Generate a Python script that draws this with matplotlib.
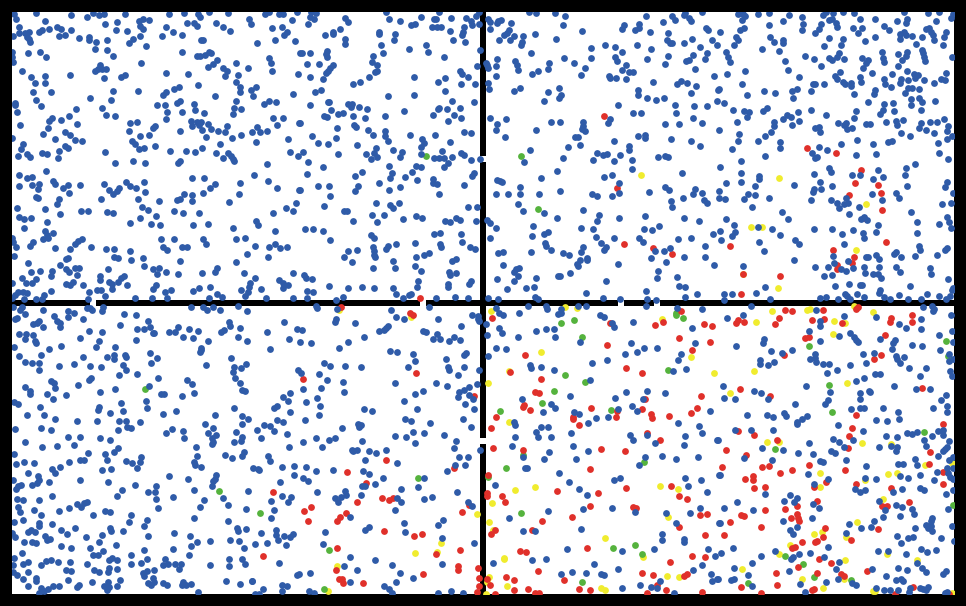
import numpy as np
import matplotlib
matplotlib.use('Agg')
import matplotlib.pyplot as plt

# points, (x, y) per panel and category
top_left_blue = [
(14,14),(16,19),(36,13),(71,15),(87,17),(93,13),(99,15),(104,14),(125,14),(169,14),(184,13),(198,14),(200,17),(209,12),(228,13),(265,14),(269,12),(279,14),(283,14),(297,12),(292,20),(45,21),(19,27),(13,36),(19,33),(25,33),(29,32),(27,37),(29,39),(30,42),(39,32),(42,30),(49,29),(57,27),(61,29),(59,36),(65,35),(71,30),(79,38),(89,37),(89,40),(96,42),(107,40),(95,49),(107,50),(113,56),(105,24),(116,30),(117,22),(127,31),(139,21),(143,19),(149,20),(140,26),(143,29),(140,36),(133,39),(129,43),(146,46),(162,36),(166,27),(173,32),(182,35),(187,23),(194,23),(197,26),(216,23),(223,27),(230,31),(251,24),(249,19),(272,28),(282,27),(287,32),(284,35),(275,40),(295,41),(257,43),(201,40),(203,40),(182,52),(12,52),(12,57),(13,62),(28,53),(40,52),(46,57),(22,71),(31,77),(45,76),(35,83),(45,83),(70,75),(100,65),(98,69),(95,71),(102,69),(106,69),(104,78),(121,77),(125,75),(141,63),(166,73),(188,74),(197,56),(200,56),(205,55),(209,52),(211,53),(217,60),(213,64),(208,67),(223,68),(227,71),(225,76),(238,75),(236,63),(248,68),(269,58),(271,63),(272,71),(300,53),(298,74),(236,82),(240,87),(240,92),(251,90),(256,87),(253,96),(198,85),(179,87),(174,89),(166,92),(163,95),(138,91),(113,91),(111,100),(90,98),(33,92),(51,92),(36,100),(15,103),(15,105),(17,112),(41,106),(76,109),(102,108),(106,115),(115,116),(157,105),(165,105),(167,112),(166,119),(177,103),(180,101),(182,112),(194,104),(195,110),(204,113),(215,96),(236,101),(234,108),(241,109),(233,114),(264,104),(269,101),(276,102),(293,94),(283,118),(273,118),(277,125),(299,123),(52,118),(49,121),(61,120),(69,116),(77,124),(20,125),(48,128),(43,134),(65,132),(70,135),(55,139),(75,140),(82,141),(12,138),(23,144),(21,149),(65,146),(68,148),(59,151),(27,154),(30,157),(18,156),(42,153),(47,154),(58,158),(105,152),(115,163),(133,161),(145,163),(130,123),(137,122),(129,131),(155,126),(153,128),(149,135),(140,136),(132,141),(135,144),(139,149),(144,148),(155,146),(170,151),(180,131),(191,121),(197,122),(201,122),(192,126),(199,125),(202,130),(208,124),(211,129),(218,131),(225,132),(227,126),(241,135),(232,138),(206,137),(220,144),(202,148),(195,152),(186,151),(180,161),(178,163),(216,153),(223,158),(228,153),(231,156),(233,159),(234,161),(252,132),(257,127),(260,132),(267,131),(256,142),(288,139),(290,152),(298,156),(267,164),(254,175),(268,181),(277,188),(299,190),(296,203),(293,211),(286,208),(273,213),(240,183),(239,194),(229,202),(215,184),(210,188),(203,193),(204,178),(192,178),(192,195),(192,201),(184,194),(180,199),(177,200),(159,201),(144,182),(145,192),(136,188),(138,199),(130,186),(126,182),(119,188),(117,191),(113,194),(109,190),(104,184),(80,185),(46,171),(19,175),(19,186),(27,178),(32,177),(32,185),(39,184),(38,189),(53,181),(55,184),(63,188),(68,185),(69,193),(101,199),(36,197),(38,198),(59,199),(57,204),(17,208),(45,209),(81,211),(88,211),(107,212),(113,213),(60,214),(19,217),(24,219),(31,218),(47,222),(24,228),(142,207),(148,210),(156,216),(174,211),(183,213),(199,213),(140,218),(130,223),(151,224),(160,225),(193,225),(208,224),(233,228),(256,221),(258,225),(275,231),(45,231),(53,233),(47,235),(43,239),(48,238),(12,238),(13,242),(16,247),(30,246),(33,242),(82,239),(78,241),(75,244),(91,247),(70,249),(55,248),(106,249),(114,249),(130,251),(161,239),(163,247),(167,250),(174,239),(182,247),(187,247),(203,239),(206,244),(236,239),(245,238),(255,246),(269,247),(275,244),(280,248),(287,247),(268,257),(247,254),(236,262),(180,261),(143,258),(131,260),(114,257),(118,258),(14,256),(28,263),(68,258),(66,259),(60,265),(75,268),(79,268),(66,269),(69,272),(108,269),(144,266),(153,269),(159,268),(157,274),(166,272),(178,274),(202,273),(217,268),(215,272),(244,273),(293,273),(255,278),(31,272),(40,271),(52,271),(51,276),(77,275),(22,278),(26,283),(32,283),(36,279),(12,283),(66,284),(70,285),(73,282),(83,285),(100,276),(100,280),(109,282),(112,284),(118,282),(121,278),(124,276),(127,285),(112,289),(279,280),(283,283),(288,285),(283,288),(250,283),(249,287),(241,290),(248,292),(245,296),(261,289),(266,298),(293,298),(222,297),(217,294),(209,298),(210,287),(199,288),(193,291),(171,290),(165,292),(167,298),(156,285),(153,289),(152,298),(135,298),(105,296),(97,290),(101,290),(89,292),(88,299),(51,291),(44,295),(42,299),(36,299),(27,293),(23,292),(18,292),(15,295),(12,298),(24,299),
(311,12),(316,13),(310,17),(314,19),(308,24),(345,18),(348,22),(386,12),(389,19),(400,21),(421,17),(439,12),(434,19),(436,19),(451,18),(466,18),(471,21),(472,25),(476,16),(479,12),(479,24),(411,25),(415,24),(432,27),(437,27),(441,27),(450,31),(464,27),(463,32),(462,35),(453,40),(465,42),(340,29),(333,32),(333,34),(325,35),(379,32),(379,34),(395,34),(394,40),(345,39),(345,44),(381,45),(426,45),(428,52),(409,49),(302,53),(310,53),(327,51),(326,54),(327,57),(373,56),(383,53),(372,62),(377,65),(444,57),(480,50),(307,64),(319,64),(333,65),(330,68),(328,71),(326,73),(310,77),(323,79),(377,71),(375,72),(369,77),(360,82),(353,84),(414,77),(438,82),(445,78),(460,71),(462,74),(468,77),(477,66),(461,84),(475,84),(445,91),(321,90),(315,92),(388,96),(414,95),(452,101),(474,102),(310,105),(328,102),(329,102),(348,104),(352,104),(351,107),(359,107),(367,109),(331,110),(338,114),(343,113),(324,116),(327,117),(353,116),(365,118),(385,116),(404,111),(439,108),(438,109),(433,115),(447,109),(460,108),(454,115),(461,118),(448,121),(300,123),(337,128),(354,125),(356,127),(368,130),(373,135),(385,131),(385,136),(388,141),(410,135),(435,135),(422,139),(424,143),(421,147),(464,132),(471,133),(450,142),(312,136),(336,138),(318,143),(328,144),(357,145),(376,148),(393,150),(303,152),(338,154),(366,154),(374,153),(377,157),(371,159),(402,152),(400,157),(421,154),(442,151),(434,158),(439,158),(444,158),(452,157),(461,153),(464,155),(471,160),(480,159),(448,163),(444,167),(308,162),(323,167),(389,166),(416,166),(421,167),(412,172),(307,174),(362,172),(355,176),(392,173),(390,178),(405,177),(417,180),(433,179),(433,183),(437,184),(474,173),(472,176),(464,185),(318,186),(329,186),(358,186),(379,183),(400,187),(300,190),(355,191),(389,190),(330,196),(439,194),(376,203),(399,203),(390,205),(393,208),(324,206),(344,211),(347,211),(468,207),(477,207),(372,215),(384,215),(416,216),(422,218),(353,221),(377,222),(403,219),(445,221),(450,222),(456,218),(460,220),(476,221),(305,229),(313,229),(323,231),(330,240),(371,235),(374,238),(434,234),(440,233),(461,234),(415,243),(396,244),(388,246),(386,249),(440,244),(441,247),(462,242),(470,247),(475,249),(373,247),(374,251),(348,251),(357,250),(374,255),(375,257),(344,257),(352,262),(393,261),(416,257),(424,255),(429,253),(456,259),(452,261),(415,266),(373,268),(395,268),(421,271),(449,272),(450,275),(456,273),(304,275),(306,278),(312,279),(471,281),(469,284),(418,281),(417,287),(448,284),(448,287),(329,286),(348,288),(362,287),(374,288),(393,288),(307,291),(313,292),(396,294),(409,295),(411,294),(403,298),(436,298),(455,297),(468,298),(343,297),(336,300),(307,298)]
top_left_red = [(420,298)]
top_left_yellow = []
top_left_green = [(426,156)]

top_right_blue = [
(529,12),(536,13),(555,13),(565,16),(646,16),(672,16),(675,20),(685,13),(684,15),(689,18),(691,21),(702,12),(488,19),(490,22),(497,23),(498,21),(501,20),(511,23),(563,25),(624,25),(622,29),(639,24),(639,28),(635,30),(663,22),(706,28),(708,30),(490,29),(509,30),(507,33),(504,35),(582,31),(650,32),(668,33),(535,34),(514,36),(523,36),(499,40),(510,40),(522,42),(521,45),(556,39),(667,40),(670,43),(672,43),(684,43),(692,39),(712,40),(717,45),(605,45),(637,45),(591,48),(615,47),(651,49),(700,47),(531,53),(622,52),(693,55),(707,53),(564,58),(591,58),(615,57),(668,56),(705,59),(497,59),(617,61),(647,59),(686,61),(689,60),(515,61),(574,63),(549,63),(665,64),(486,63),(487,65),(488,68),(496,66),(517,65),(518,70),(548,69),(585,68),(626,65),(622,70),(695,69),(538,71),(532,74),(581,75),(629,72),(633,72),(496,76),(609,76),(610,78),(616,78),(626,79),(714,76),(488,83),(653,82),(681,81),(677,84),(687,83),(696,86),(489,89),(520,88),(514,91),(559,88),(548,92),(638,90),(638,95),(691,93),(718,90),(561,95),(559,98),(544,101),(647,98),(656,100),(664,98),(717,101),(618,105),(675,105),(694,106),(707,106),(633,113),(641,113),(676,113),(490,118),(506,119),(610,119),(608,123),(693,118),(497,124),(551,122),(560,122),(583,122),(583,126),(665,124),(679,124),(702,123),(496,130),(536,130),(582,129),(585,131),(505,137),(575,137),(578,137),(638,136),(645,135),(645,138),(671,139),(614,141),(691,141),(568,147),(580,145),(629,146),(629,150),(700,146),(530,150),(597,153),(607,154),(603,155),(620,155),(658,157),(665,156),(668,157),(563,158),(593,160),(614,161),(632,160),(524,162),(557,171),(632,169),(682,173),(604,177),(612,175),(541,178),(497,180),(500,181),(502,182),(520,187),(619,183),(665,187),(695,189),(669,190),(496,194),(508,194),(520,194),(539,194),(560,191),(592,194),(597,196),(612,196),(619,193),(649,192),(683,198),(693,194),(702,193),(704,200),(707,203),(671,201),(518,204),(672,207),(523,211),(544,213),(583,210),(599,215),(487,220),(490,223),(557,218),(619,218),(645,216),(684,218),(699,221),(597,221),(496,228),(533,226),(581,228),(593,229),(644,229),(652,230),(659,226),(548,232),(544,234),(532,236),(713,234),(490,238),(596,237),(614,238),(639,238),(678,239),(691,238),(601,243),(643,242),(545,243),(546,246),(606,247),(604,250),(583,247),(705,246),(670,248),(664,251),(655,251),(551,250),(531,252),(503,252),(498,253),(563,253),(569,255),(581,252),(684,257),(705,257),(651,258),(587,258),(580,260),(587,260),(666,262),(503,265),(577,264),(578,266),(618,264),(714,265),(519,268),(516,269),(514,272),(518,276),(658,271),(570,273),(558,276),(560,276),(536,278),(497,279),(514,281),(657,278),(677,277),(606,281),(526,288),(534,287),(507,289),(679,286),(685,287),(646,291),(697,294),(586,293),(685,297),(488,298),(498,299),(535,297),(538,299),(603,298),(620,299),(647,299),(656,300),
(738,14),(743,14),(745,16),(758,14),(769,13),(789,15),(802,17),(823,15),(826,12),(833,13),(843,12),(854,13),(904,12),(928,13),(939,12),(953,14),(951,18),(860,19),(875,19),(897,21),(907,19),(906,23),(936,21),(742,20),(783,21),(829,20),(832,19),(836,23),(837,27),(821,24),(819,29),(769,25),(803,24),(802,30),(884,26),(889,30),(853,28),(862,28),(858,33),(929,28),(926,29),(931,32),(933,35),(744,28),(740,30),(720,32),(815,33),(904,32),(900,34),(906,35),(912,36),(922,37),(946,32),(944,37),(770,37),(736,37),(738,40),(783,40),(829,38),(843,39),(875,37),(900,39),(934,40),(774,42),(783,43),(865,41),(916,44),(943,45),(734,45),(824,46),(841,45),(762,49),(779,51),(726,52),(922,50),(923,53),(882,52),(898,54),(907,52),(906,56),(952,57),(728,57),(730,62),(805,56),(839,53),(837,57),(829,58),(832,60),(844,59),(814,59),(862,58),(785,61),(883,58),(884,62),(868,60),(866,63),(902,60),(924,57),(925,61),(821,66),(863,68),(898,66),(745,71),(788,70),(727,74),(840,72),(872,73),(892,74),(907,71),(914,74),(918,75),(946,73),(799,77),(835,76),(837,79),(860,77),(884,79),(915,78),(924,80),(908,80),(901,79),(900,83),(941,79),(945,80),(742,84),(813,84),(815,84),(824,84),(843,82),(845,84),(851,83),(851,86),(861,82),(885,84),(891,87),(934,83),(719,89),(764,91),(775,93),(792,91),(797,89),(811,91),(875,90),(874,94),(854,94),(908,88),(912,88),(919,89),(905,93),(747,95),(793,98),(919,98),(911,99),(868,102),(724,103),(922,102),(935,101),(911,105),(884,104),(893,103),(767,108),(763,111),(733,110),(744,111),(749,112),(798,112),(811,110),(856,111),(883,110),(894,111),(921,110),(880,114),(747,117),(826,115),(787,115),(791,117),(783,119),(854,118),(737,122),(774,122),(774,126),(799,121),(792,125),(838,123),(846,123),(844,125),(866,124),(870,124),(886,122),(896,121),(897,125),(903,120),(921,123),(930,122),(937,122),(944,119),(948,126),(919,128),(926,130),(719,130),(819,127),(815,128),(820,132),(847,129),(852,128),(901,133),(934,133),(947,131),(739,134),(771,132),(765,136),(910,136),(952,136),(738,141),(758,141),(780,142),(857,140),(892,141),(888,142),(947,139),(938,143),(780,148),(732,149),(841,144),(873,144),(819,147),(827,150),(812,153),(939,153),(765,156),(817,157),(815,158),(856,155),(876,154),(741,161),(948,159),(720,167),(915,164),(906,168),(829,168),(831,172),(878,170),(741,173),(814,174),(852,175),(860,175),(759,176),(759,179),(905,175),(873,179),(883,177),(741,182),(726,183),(820,182),(794,185),(832,186),(755,186),(907,186),(945,187),(947,182),(814,189),(813,192),(821,189),(719,191),(748,194),(755,195),(872,194),(953,193),(896,193),(719,198),(725,199),(744,199),(769,198),(811,200),(831,200),(846,198),(899,198),(882,200),(752,207),(837,203),(844,204),(848,203),(839,208),(859,207),(942,204),(951,203),(782,212),(849,214),(911,212),(726,219),(788,219),(861,219),(864,217),(867,220),(947,217),(949,222),(917,222),(939,224),(734,225),(758,227),(878,225),(951,228),(772,229),(814,229),(832,229),(853,230),(863,233),(876,232),(917,233),(720,231),(735,232),(732,236),(780,235),(842,234),(864,238),(795,240),(721,240),(759,242),(799,244),(844,244),(764,251),(919,246),(920,250),(947,248),(945,250),(896,252),(894,254),(876,255),(937,255),(915,256),(901,257),(833,256),(866,257),(868,257),(879,259),(794,260),(848,261),(834,263),(743,266),(815,267),(828,267),(841,269),(846,271),(853,268),(864,267),(879,267),(896,267),(900,272),(930,268),(931,274),(865,273),(832,275),(824,276),(873,274),(878,274),(881,278),(948,279),(835,286),(849,284),(860,285),(862,285),(910,286),(765,287),(880,290),(953,288),(952,290),(724,294),(732,294),(756,293),(845,294),(857,294),(879,293),(927,294),(899,295),(939,296),(950,296),(847,296),(850,299),(864,297),(884,297),(890,299),(908,299),(921,299),(946,299),(770,299),(820,298),(826,297),(838,299),(724,300)]
top_right_red = [(604,116),(617,188),(624,244),(653,248),(672,254),(807,148),(836,153),(861,170),(855,183),(878,185),(881,193),(849,195),(882,210),(864,218),(886,242),(833,250),(854,257),(852,263),(837,265),(837,269),(730,246),(743,274),(780,276),(741,294)]
top_right_yellow = [(641,175),(779,178),(866,204),(751,227),(762,227),(856,250),(743,274),(778,288)]
top_right_green = [(521,156),(538,209)]

bottom_left_blue = [
(13,307),(22,307),(20,310),(43,310),(25,314),(17,318),(15,319),(54,316),(68,311),(74,313),(68,317),(83,319),(87,308),(90,308),(92,310),(103,307),(102,311),(124,314),(136,315),(57,321),(60,323),(60,327),(39,321),(37,323),(33,324),(43,327),(120,325),(148,321),(150,327),(137,329),(144,329),(153,333),(154,333),(169,332),(175,332),(178,327),(189,329),(198,331),(183,337),(193,338),(208,341),(221,332),(224,330),(229,322),(230,326),(240,328),(238,337),(247,341),(247,311),(238,306),(220,310),(213,307),(207,310),(203,307),(191,307),(19,334),(26,334),(33,335),(25,339),(35,341),(36,343),(14,347),(49,349),(61,346),(80,338),(89,331),(102,332),(99,341),(96,347),(115,347),(136,340),(19,356),(41,355),(25,362),(32,363),(39,363),(39,370),(59,366),(74,364),(83,357),(90,366),(101,367),(107,357),(114,355),(114,359),(125,355),(126,357),(123,365),(126,370),(150,353),(157,358),(151,363),(137,374),(119,375),(206,365),(231,358),(201,348),(201,350),(200,352),(234,367),(241,368),(246,364),(233,372),(235,378),(158,378),(187,380),(192,384),(240,383),(51,381),(54,383),(55,388),(78,385),(89,380),(91,378),(25,387),(30,391),(30,394),(47,394),(66,395),(53,399),(100,392),(115,389),(149,386),(161,394),(164,394),(182,396),(194,393),(242,390),(245,391),(14,402),(18,404),(40,407),(121,403),(146,401),(147,408),(99,407),(98,410),(110,413),(123,411),(176,411),(234,408),(27,415),(44,415),(55,419),(77,421),(97,421),(119,421),(126,421),(140,422),(163,414),(215,415),(242,416),(248,419),(15,429),(41,428),(51,430),(118,430),(127,427),(131,428),(205,424),(242,424),(166,433),(172,429),(183,431),(213,428),(208,433),(216,435),(236,432),(68,437),(80,437),(100,438),(110,440),(184,438),(25,442),(212,438),(213,442),(212,444),(242,437),(241,441),(234,442),(42,447),(57,446),(74,445),(118,448),(196,447),(14,454),(88,453),(105,454),(114,452),(197,456),(225,455),(232,458),(244,452),(242,456),(141,457),(140,462),(80,460),(84,460),(107,460),(126,461),(132,463),(24,462),(34,463),(16,464),(69,462),(194,462),(195,465),(137,468),(201,467),(52,469),(60,467),(102,470),(111,469),(55,473),(28,473),(38,476),(216,475),(215,479),(213,481),(169,476),(13,480),(39,480),(37,483),(49,482),(80,480),(108,482),(135,485),(188,479),(32,485),(21,485),(18,486),(16,489),(156,486),(212,486),(122,490),(148,492),(155,492),(194,490),(248,491),(52,496),(117,496),(173,497),(223,498),(17,499),(23,500),(39,500),(204,500),(156,499),(87,502),(84,503),(77,504),(81,507),(228,505),(200,507),(158,508),(18,507),(69,508),(20,512),(34,510),(59,511),(246,509),(105,511),(110,512),(131,515),(41,515),(93,515),(23,520),(147,520),(194,518),(129,522),(14,522),(228,521),(39,523),(39,526),(52,524),(144,526),(75,528),(110,528),(61,530),(111,531),(123,531),(31,530),(28,532),(35,532),(237,528),(238,531),(246,529),(12,533),(15,537),(67,534),(102,535),(86,537),(45,536),(47,540),(50,539),(148,536),(174,533),(190,536),(24,542),(32,542),(36,543),(99,542),(197,542),(210,541),(230,540),(239,541),(116,545),(61,546),(71,548),(90,548),(191,546),(244,548),(144,550),(173,549),(103,551),(22,553),(93,555),(98,555),(131,555),(189,555),(14,558),(229,559),(242,559),(112,558),(109,560),(117,560),(147,559),(165,559),(46,561),(51,560),(58,562),(70,562),(28,562),(23,564),(13,565),(41,565),(87,564),(131,564),(141,563),(163,565),(168,564),(175,564),(181,564),(179,569),(210,565),(229,566),(245,564),(66,570),(71,571),(109,568),(108,572),(117,569),(94,570),(99,572),(154,570),(147,571),(143,573),(144,576),(13,572),(17,575),(28,572),(23,579),(36,578),(36,581),(68,580),(120,580),(92,582),(153,578),(148,583),(154,582),(151,585),(163,583),(167,585),(183,582),(182,585),(186,585),(191,584),(226,581),(240,584),(252,581),(28,586),(53,586),(59,586),(79,585),(77,587),(108,582),(104,586),(109,587),(107,590),(117,586),(41,588),(48,589),(39,593),(44,591),(198,592),
(316,306),(317,308),(337,309),(391,310),(429,307),(396,317),(404,319),(438,319),(472,315),(478,316),(478,319),(479,321),(284,322),(336,319),(335,322),(355,323),(461,326),(267,332),(297,329),(302,330),(388,326),(386,328),(384,330),(379,331),(423,331),(426,332),(437,334),(454,337),(460,340),(440,339),(433,339),(449,341),(289,339),(300,342),(311,343),(364,337),(348,342),(270,349),(339,348),(390,351),(397,352),(413,354),(466,353),(464,355),(446,359),(415,361),(324,363),(330,366),(345,366),(361,367),(408,367),(448,367),(449,370),(464,367),(479,370),(298,370),(301,373),(319,374),(458,375),(327,380),(343,382),(395,383),(436,383),(447,386),(477,384),(321,388),(303,389),(344,392),(415,394),(423,391),(469,387),(464,390),(459,392),(469,395),(473,399),(458,397),(290,393),(283,397),(317,398),(288,401),(306,402),(404,401),(465,404),(320,406),(277,406),(274,408),(290,412),(364,409),(372,411),(417,409),(474,409),(319,415),(277,420),(283,422),(305,420),(405,419),(411,421),(430,423),(463,419),(264,425),(270,426),(358,424),(361,425),(359,427),(342,428),(471,427),(257,430),(274,431),(287,434),(413,432),(424,433),(444,435),(395,436),(406,437),(261,438),(316,438),(335,438),(329,440),(303,442),(362,441),(415,443),(456,441),(289,447),(322,447),(454,448),(480,450),(352,450),(357,450),(353,451),(369,451),(376,453),(386,450),(268,456),(270,461),(459,457),(468,457),(365,460),(397,463),(253,468),(258,469),(259,470),(282,467),(294,466),(306,467),(316,471),(333,470),(363,471),(369,474),(465,465),(455,465),(447,471),(294,475),(303,478),(308,481),(280,482),(383,478),(424,478),(375,484),(362,486),(365,486),(401,489),(418,487),(317,492),(345,491),(457,492),(282,496),(291,497),(335,498),(341,497),(346,495),(361,495),(397,498),(432,497),(271,501),(288,502),(338,502),(401,502),(424,499),(468,502),(472,506),(274,510),(395,510),(271,518),(350,517),(443,520),(404,523),(438,525),(369,527),(365,530),(261,533),(276,530),(325,532),(405,532),(293,534),(290,537),(284,536),(276,535),(278,540),(255,544),(267,543),(286,545),(323,544),(442,538),(474,543),(350,557),(375,560),(279,563),(344,566),(392,565),(442,564),(357,570),(400,573),(310,573),(299,574),(297,575),(413,578),(252,581),(350,582),(396,582),(282,585),(287,586),(384,586),(389,589),(392,593),(263,589),(282,591),(255,594),(259,594),(309,591),(314,593),(438,593),(451,591),(463,593)]
bottom_left_red = [(341,307),(410,313),(413,315),(303,379),(416,373),(474,396),(386,460),(347,472),(454,468),(366,483),(273,492),(382,498),(389,500),(393,498),(357,502),(311,507),(304,511),(308,521),(340,517),(337,521),(346,513),(462,512),(469,505),(384,531),(414,536),(422,534),(460,550),(436,554),(337,548),(263,556),(336,570),(458,566),(458,570),(423,574),(478,568),(339,579),(342,579),(343,583),(363,583),(479,578),(479,586),(477,592)]
bottom_left_yellow = [(339,310),(411,317),(477,514),(441,543),(415,553),(437,552),(337,566),(328,591)]
bottom_left_green = [(145,389),(219,491),(418,478),(260,513),(329,550),(324,589)]

bottom_right_blue = [
(496,308),(528,306),(546,306),(547,309),(578,306),(586,306),(646,306),(677,308),(702,309),(561,309),(561,313),(558,314),(499,313),(503,315),(519,313),(600,315),(604,317),(633,322),(612,323),(614,327),(486,324),(499,328),(502,333),(536,331),(546,329),(554,329),(692,328),(487,335),(518,337),(555,337),(580,342),(631,343),(695,343),(496,348),(506,349),(644,348),(657,348),(637,352),(625,354),(681,354),(488,356),(678,360),(607,360),(592,363),(530,365),(531,368),(541,367),(554,370),(686,369),(673,371),(590,380),(570,396),(626,392),(647,391),(665,393),(615,398),(643,399),(522,399),(551,404),(555,408),(632,406),(618,409),(637,411),(543,412),(710,411),(574,412),(579,414),(596,418),(608,417),(514,422),(515,425),(588,423),(678,423),(541,427),(548,427),(699,426),(536,432),(571,433),(630,435),(647,435),(685,436),(702,433),(515,437),(538,437),(551,437),(633,440),(717,440),(655,443),(512,446),(573,446),(684,445),(549,452),(588,451),(523,457),(544,459),(576,459),(645,457),(662,456),(676,459),(698,457),(639,465),(525,468),(527,468),(559,473),(719,475),(569,482),(614,480),(620,478),(685,478),(701,480),(495,485),(688,486),(579,489),(587,495),(707,492),(548,511),(612,508),(583,509),(635,512),(666,513),(690,513),(700,508),(509,518),(676,523),(719,523),(581,529),(523,531),(535,531),(662,534),(662,540),(684,539),(684,542),(567,549),(622,551),(654,549),(708,549),(532,560),(546,559),(715,556),(493,563),(594,564),(702,565),(618,569),(693,570),(561,574),(572,572),(586,573),(601,574),(604,575),(711,574),(660,581),(712,581),(717,579),(640,585),(651,587),(657,588),(622,588),(674,593),
(751,306),(816,310),(743,315),(727,318),(844,316),(876,317),(923,307),(932,306),(934,309),(933,311),(951,315),(921,319),(820,321),(820,326),(899,324),(906,328),(921,329),(809,331),(952,331),(850,333),(854,337),(856,340),(858,342),(839,336),(820,341),(939,335),(880,339),(764,339),(763,343),(953,342),(895,340),(893,343),(736,346),(792,350),(771,351),(782,353),(912,345),(922,346),(892,349),(940,350),(863,354),(874,353),(815,354),(810,359),(815,358),(896,356),(897,359),(904,357),(949,354),(760,360),(760,364),(768,365),(774,362),(816,362),(823,364),(829,364),(850,365),(866,363),(900,363),(949,361),(953,359),(909,368),(926,368),(837,370),(827,373),(950,371),(875,374),(880,374),(920,376),(952,376),(856,381),(864,378),(806,386),(723,386),(894,386),(754,391),(761,393),(916,389),(930,389),(860,393),(869,391),(870,392),(830,392),(946,395),(724,398),(735,399),(768,399),(860,399),(828,400),(825,404),(941,400),(795,404),(947,406),(933,408),(851,409),(860,408),(864,408),(883,408),(947,412),(898,412),(784,413),(786,416),(747,415),(767,415),(773,417),(807,416),(802,419),(797,422),(797,424),(876,420),(887,421),(899,419),(838,425),(735,430),(751,430),(773,430),(863,431),(907,433),(912,434),(917,432),(938,431),(943,430),(886,436),(897,437),(932,436),(943,435),(833,439),(853,440),(924,440),(949,441),(718,440),(809,443),(839,442),(926,446),(891,446),(897,447),(879,447),(844,447),(947,447),(945,449),(943,451),(896,451),(762,448),(783,450),(798,453),(831,451),(835,453),(813,454),(938,456),(744,458),(953,457),(915,459),(949,460),(772,460),(820,461),(823,462),(846,460),(898,464),(903,464),(917,465),(866,466),(947,468),(953,468),(937,472),(808,474),(920,475),(720,475),(948,473),(950,477),(953,479),(876,479),(900,476),(908,478),(934,480),(828,479),(865,478),(814,484),(902,489),(920,488),(924,490),(953,490),(855,489),(865,490),(860,492),(893,492),(765,494),(946,494),(790,495),(797,498),(784,501),(794,502),(879,501),(737,502),(813,504),(819,508),(896,505),(902,507),(912,509),(948,509),(885,510),(724,508),(753,510),(914,514),(900,516),(883,517),(932,518),(812,518),(783,521),(874,521),(720,523),(931,521),(849,524),(926,525),(931,526),(952,526),(861,528),(871,527),(915,528),(797,527),(790,530),(793,534),(932,531),(928,528),(846,533),(897,536),(913,537),(908,538),(941,538),(954,541),(901,543),(828,547),(733,548),(921,549),(927,552),(936,550),(878,551),(888,551),(775,551),(810,553),(721,553),(906,554),(761,556),(799,554),(793,557),(791,559),(824,557),(752,563),(839,562),(917,563),(836,569),(898,568),(922,568),(872,569),(734,568),(907,570),(926,572),(946,571),(943,574),(789,571),(748,575),(886,576),(896,580),(901,579),(903,581),(838,579),(718,579),(734,579),(731,580),(826,582),(800,584),(852,583),(856,585),(752,586),(876,588),(910,588),(920,588),(923,589),(928,587),(926,590),(884,590),(890,590),(898,590),(909,592),(945,593),(947,592),(805,592)]
bottom_right_red = [(492,318),(681,311),(663,322),(655,325),(610,323),(704,324),(712,326),(679,338),(710,342),(692,350),(607,345),(525,355),(626,368),(642,373),(510,372),(541,379),(535,392),(539,393),(701,396),(645,399),(524,405),(523,407),(530,410),(591,408),(642,409),(617,411),(651,414),(652,418),(616,417),(669,416),(697,408),(691,413),(573,417),(573,419),(579,425),(496,417),(491,428),(647,433),(660,440),(523,450),(493,448),(601,449),(625,451),(590,469),(488,475),(487,493),(487,496),(557,491),(598,493),(626,488),(671,486),(679,496),(687,499),(502,496),(505,502),(590,506),(633,507),(636,508),(700,515),(707,514),(572,517),(542,521),(679,527),(495,530),(491,534),(532,530),(705,535),(520,551),(526,552),(587,548),(692,556),(705,557),(670,562),(538,571),(642,573),(653,575),(684,576),(687,574),(506,577),(514,580),(564,580),(487,579),(490,585),(657,585),(514,590),(528,589),(535,593),(539,593),(579,589),(590,590),(666,590),(647,593),(702,592),(495,594),
(785,310),(792,311),(823,310),(858,307),(856,309),(738,320),(736,323),(744,322),(779,318),(775,324),(812,320),(824,319),(842,323),(891,318),(890,322),(912,315),(912,322),(805,338),(809,337),(885,335),(784,355),(881,355),(874,359),(740,389),(770,396),(922,388),(856,415),(852,428),(849,436),(943,424),(738,431),(754,435),(777,440),(726,450),(848,448),(930,452),(746,455),(722,467),(762,467),(769,466),(780,473),(792,470),(809,465),(845,470),(929,464),(943,472),(745,479),(753,476),(753,480),(754,488),(765,487),(826,482),(814,487),(856,484),(891,488),(943,484),(817,501),(909,502),(785,509),(797,506),(765,510),(882,506),(887,506),(741,515),(744,516),(797,514),(798,518),(791,518),(799,521),(730,522),(761,527),(825,528),(878,529),(724,535),(823,537),(851,540),(802,542),(817,541),(815,542),(795,547),(792,548),(819,559),(831,563),(798,567),(817,573),(776,573),(841,574),(844,576),(867,571),(777,585),(741,587),(814,589),(812,590),(913,587),(895,594),(761,593),(949,594)]
bottom_right_yellow = [(491,311),(565,307),(577,308),(662,319),(541,352),(691,357),(714,373),(509,371),(488,383),(509,422),(660,486),(678,489),(515,490),(535,487),(492,503),(668,517),(489,522),(493,530),(605,538),(504,558),(504,559),(643,557),(667,576),(679,577),(489,577),(487,582),(507,586),(601,588),(605,590),(486,594),
(772,311),(810,309),(807,310),(854,306),(873,312),(756,322),(834,321),(845,323),(833,334),(754,371),(847,383),(730,393),(767,442),(779,442),(862,443),(891,444),(952,463),(925,465),(820,473),(888,474),(897,473),(865,480),(820,487),(883,499),(857,522),(814,534),(822,532),(846,537),(790,545),(779,554),(887,554),(845,560),(742,569),(917,560),(802,579),(844,579),(823,588),(873,591),(875,591),(952,593)]
bottom_right_green = [(561,323),(574,320),(582,337),(676,313),(676,315),(683,318),(668,370),(565,375),(585,382),(554,391),(542,403),(500,411),(611,410),(523,455),(644,462),(506,468),(488,477),(521,513),(613,548),(635,545),(642,554),(582,582),
(829,385),(809,346),(946,341),(948,356),(832,412),(924,432),(775,449),(953,505),(785,556),(803,564),(814,577),(851,580),(748,583)]

blue = top_left_blue + top_right_blue + bottom_left_blue + bottom_right_blue
red = top_left_red + top_right_red + bottom_left_red + bottom_right_red
yellow = top_left_yellow + top_right_yellow + bottom_left_yellow + bottom_right_yellow
green = top_left_green + top_right_green + bottom_left_green + bottom_right_green

# black dividers between the panels, with their small gaps
h_line_parts = [(12, 90), (96, 420), (426, 618), (624, 654), (660, 954)]
v_line_parts = [(12, 156), (162, 438), (444, 594)]

fig = plt.figure(figsize=(9.66, 6.06), dpi=100, facecolor='black')
ax = fig.add_axes([12/966, 12/606, 942/966, 582/606])
ax.set_xlim(12, 954)
ax.set_ylim(594, 12)
ax.axis('off')
ax.add_patch(plt.Rectangle((12, 12), 942, 582, color='white', zorder=0))

for a, b in h_line_parts:
    ax.plot([a, b], [303, 303], color='black', lw=4.32, solid_capstyle='butt', zorder=1)
for a, b in v_line_parts:
    ax.plot([483, 483], [a, b], color='black', lw=4.32, solid_capstyle='butt', zorder=1)

# drawn in this order so blue ends up on top
for pts, col in [(yellow, '#f0ec2e'), (green, '#55b33d'), (red, '#e0302a'), (blue, '#2f5ba8')]:
    pts = np.array(pts)
    ax.scatter(pts[:, 0], pts[:, 1], s=24, color=col, linewidths=0, zorder=2)

plt.savefig('out.png', dpi=100, facecolor='black')
plt.close()
